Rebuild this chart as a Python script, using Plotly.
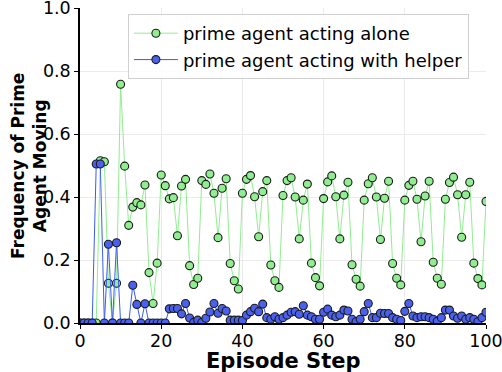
import plotly.graph_objects as go

steps = list(range(0, 101))

alone = [
    0, 0, 0, 0, 0, 0.515, 0.512, 0.126, 0, 0.126,
    0.758, 0.498, 0.31, 0.368, 0.382, 0.375, 0.438, 0.16, 0.062, 0.19,
    0.47, 0.436, 0.394, 0.398, 0.277, 0.435, 0.456, 0.182, 0.122, 0.142,
    0.452, 0.44, 0.473, 0.412, 0.271, 0.428, 0.458, 0.189, 0.134, 0.108,
    0.412, 0.456, 0.468, 0.401, 0.274, 0.417, 0.452, 0.184, 0.134, 0.113,
    0.405, 0.452, 0.461, 0.4, 0.267, 0.39, 0.441, 0.19, 0.144, 0.118,
    0.395, 0.448, 0.467, 0.401, 0.267, 0.406, 0.447, 0.185, 0.139, 0.117,
    0.39, 0.442, 0.461, 0.4, 0.265, 0.396, 0.45, 0.189, 0.142, 0.121,
    0.39, 0.437, 0.45, 0.393, 0.258, 0.403, 0.45, 0.193, 0.142, 0.123,
    0.393, 0.446, 0.463, 0.407, 0.272, 0.407, 0.447, 0.19, 0.141, 0.121,
    0.386,
]

helper = [
    0, 0, 0, 0, 0.505, 0.505, 0, 0.25, 0, 0.255,
    0, 0, 0, 0.12, 0.059, 0, 0.061, 0, 0, 0,
    0, 0, 0.045, 0.046, 0.046, 0.029, 0.062, 0.016, 0.002, 0.009,
    0.002, 0.015, 0.035, 0.062, 0.031, 0.046, 0.038, 0.009, 0.009, 0.009,
    0.008, 0.025, 0.036, 0.047, 0.036, 0.06, 0.017, 0.012, 0.02, 0.012,
    0.017, 0.025, 0.034, 0.036, 0.028, 0.055, 0.025, 0.02, 0.012, 0.012,
    0.034, 0.044, 0.025, 0.02, 0.025, 0.041, 0.038, 0.012, 0.004, 0.012,
    0.036, 0.062, 0.017, 0.017, 0.031, 0.03, 0.03, 0.017, 0.012, 0.008,
    0.037, 0.062, 0.022, 0.017, 0.02, 0.02, 0.017, 0.012, 0.006, 0.017,
    0.041, 0.041, 0.022, 0.015, 0.022, 0.012, 0.017, 0.012, 0.004, 0.017,
    0.034,
]

fig = go.Figure()

fig.add_trace(
    go.Scatter(
        x=steps,
        y=alone,
        mode="lines+markers",
        name="prime agent acting alone",
        line=dict(color="#90ee90", width=1),
        marker=dict(color="#90ee90", size=8, line=dict(color="#1a1a1a", width=1.1)),
    )
)

fig.add_trace(
    go.Scatter(
        x=steps,
        y=helper,
        mode="lines+markers",
        name="prime agent acting with helper",
        line=dict(color="#3a5cf0", width=1),
        marker=dict(color="#4a60ee", size=8, line=dict(color="#1a1a1a", width=1.1)),
    )
)

axis_font = dict(family="DejaVu Sans", size=17.5, color="black")

fig.update_layout(
    width=502,
    height=372,
    margin=dict(l=80, r=16, t=8, b=49, autoexpand=False),
    paper_bgcolor="white",
    plot_bgcolor="white",
    font=dict(family="DejaVu Sans", color="black"),
    showlegend=True,
    legend=dict(
        x=0.118,
        y=0.981,
        xanchor="left",
        yanchor="top",
        bgcolor="rgba(255,255,255,0.85)",
        bordercolor="#d0d0d0",
        borderwidth=1,
        itemwidth=44,
        font=dict(family="DejaVu Sans", size=18, color="black"),
        tracegroupgap=0,
    ),
    xaxis=dict(
        range=[0, 100],
        tickvals=[0, 20, 40, 60, 80, 100],
        tickfont=axis_font,
        ticklabeloverflow="allow",
        ticklabelstandoff=-3,
        automargin=False,
        showgrid=True,
        gridcolor="#ebebeb",
        zeroline=False,
        showline=True,
        linecolor="black",
        linewidth=1.5,
        ticks="outside",
        ticklen=4,
        tickcolor="black",
    ),
    yaxis=dict(
        range=[0, 1.0],
        tickvals=[0, 0.2, 0.4, 0.6, 0.8, 1.0],
        tickformat=".1f",
        tickfont=axis_font,
        ticklabeloverflow="allow",
        automargin=False,
        showgrid=True,
        gridcolor="#ebebeb",
        zeroline=False,
        showline=True,
        linecolor="black",
        linewidth=1.5,
        ticks="outside",
        ticklen=4,
        tickcolor="black",
    ),
    annotations=[
        dict(
            text="<b>Episode Step</b>",
            xref="paper", yref="paper",
            x=0.5, y=-0.122,
            xanchor="center", yanchor="middle",
            showarrow=False,
            font=dict(family="DejaVu Sans", size=21, color="black"),
        ),
        dict(
            text="<b>Frequency of Prime<br>Agent Moving</b>",
            xref="paper", yref="paper",
            x=-0.127, y=0.5,
            xanchor="center", yanchor="middle",
            textangle=-90,
            showarrow=False,
            font=dict(family="DejaVu Sans", size=17, color="black"),
        ),
    ],
)

# the page body has an 8px default margin; drop it so the figure sits at the corner
fig.write_html(
    "out.html",
    config={"displayModeBar": False},
    post_script="document.body.style.margin='0';",
)
